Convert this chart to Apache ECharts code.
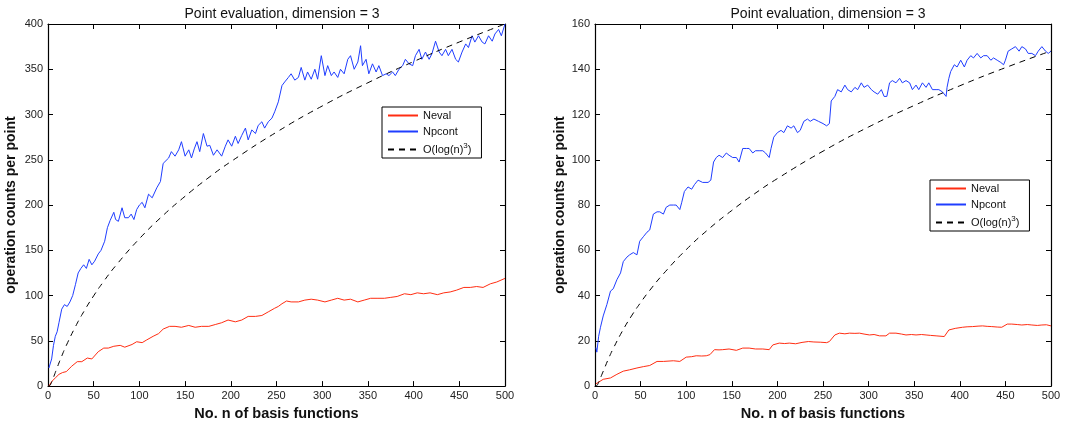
<!DOCTYPE html>
<html>
<head>
<meta charset="utf-8">
<script src="https://cdn.jsdelivr.net/npm/echarts@6/dist/echarts.min.js"></script>
<style>
html,body{margin:0;padding:0;background:#fff;}
#c{width:1071px;height:426px;}
</style>
</head>
<body>
<div id="c"></div>
<script>
// ---------- data ----------
var titleText = 'Point evaluation, dimension = 3';
var xName = 'No. n of basis functions';
var yName = 'operation counts per point';
var seriesNames = ['Neval', 'Npcont', 'O(log(n)^3)'];

// left panel
var leftNpcont = [[1,20],[2,22],[4,30],[6,45],[8,55],[10,60],[12,70],[15,85],[18,90],[21,88],[24,93],[27,100],[30,112],[33,125],[36,130],[39,134],[42,130],[45,140],[48,134],[51,138],[55,146],[58,150],[62,160],[65,175],[68,183],[72,192],[74,184],[77,182],[81,197],[84,186],[88,186],[91,190],[94,184],[97,195],[100,200],[103,203],[106,197],[110,212],[114,208],[119,219],[123,226],[126,246],[128,248],[132,252],[135,259],[139,254],[143,261],[146,270],[150,254],[154,261],[157,252],[160,262],[163,270],[166,259],[170,279],[174,265],[177,266],[181,255],[185,261],[190,254],[194,265],[197,272],[201,265],[205,276],[208,268],[212,277],[216,285],[219,272],[223,283],[227,279],[230,288],[234,292],[237,285],[241,292],[245,296],[248,303],[252,314],[256,332],[259,336],[263,341],[266,345],[270,338],[274,341],[277,352],[281,338],[284,347],[288,339],[292,350],[295,339],[299,365],[303,343],[306,354],[310,343],[313,347],[317,341],[320,350],[324,345],[328,361],[331,365],[335,350],[339,358],[342,376],[344,354],[348,361],[351,345],[355,356],[359,347],[362,354],[366,343],[370,345],[373,343],[377,347],[380,343],[384,350],[388,354],[391,361],[395,356],[399,354],[402,365],[406,372],[409,361],[413,369],[417,361],[420,367],[424,381],[428,369],[431,365],[435,372],[438,365],[442,372],[446,361],[449,358],[453,369],[457,378],[460,374],[464,387],[467,380],[471,387],[475,380],[478,378],[482,387],[486,381],[489,389],[493,394],[496,387],[500,400]];
var leftNeval = [[1,0],[4,5],[8,9],[12,13],[16,15],[20,16],[26,22],[32,27],[37,27],[43,31],[48,30],[55,38],[61,42],[66,42],[72,44],[79,45],[84,43],[92,46],[97,49],[103,48],[108,51],[115,55],[121,58],[126,63],[133,66],[139,66],[146,65],[154,67],[161,65],[168,66],[176,66],[183,68],[190,70],[197,73],[205,71],[212,73],[219,77],[227,77],[234,78],[241,82],[248,86],[252,88],[256,91],[261,94],[266,93],[274,93],[281,95],[288,96],[295,95],[303,93],[310,95],[317,97],[324,95],[331,96],[339,93],[346,95],[353,97],[361,97],[368,97],[375,98],[382,99],[390,102],[397,101],[404,103],[411,102],[418,103],[426,101],[433,103],[440,104],[447,106],[455,109],[462,109],[469,110],[476,109],[484,113],[491,115],[500,119]];
var leftRef = [[1,0],[2,0.6],[3,2.2],[5,6.9],[7,12.3],[10,20.4],[15,33.1],[20,44.8],[30,65.6],[40,83.7],[50,99.8],[60,114.4],[75,134.1],[100,162.8],[125,187.7],[150,209.7],[175,229.7],[200,247.9],[250,280.5],[300,309.4],[350,335.1],[400,358.5],[450,380.1],[500,400]];

// right panel
var rightNpcont = [[1,17],[2,15],[4,22],[6,26],[9,31],[13,36],[17,42],[20,43],[24,47],[28,50],[31,55],[35,57],[38,58],[42,59],[46,58],[49,64],[53,66],[57,68],[60,69],[64,76],[68,77],[71,77],[75,76],[78,79],[82,80],[86,80],[89,80],[93,78],[95,81],[98,86],[102,88],[106,87],[109,89],[113,91],[118,90],[124,90],[127,91],[130,99],[133,101],[136,102],[140,101],[144,103],[147,102],[151,101],[155,101],[158,99],[162,105],[166,105],[169,105],[173,103],[176,104],[180,104],[184,104],[187,103],[191,101],[193,105],[196,110],[200,112],[204,113],[207,112],[211,115],[215,114],[218,115],[222,112],[225,113],[229,117],[233,118],[236,117],[240,118],[245,117],[250,116],[254,115],[257,116],[259,126],[263,128],[266,131],[270,130],[274,133],[277,131],[281,130],[285,132],[288,131],[292,134],[295,132],[299,133],[303,131],[306,130],[310,129],[314,131],[317,128],[320,128],[323,134],[326,135],[330,134],[334,136],[337,134],[341,135],[345,134],[348,131],[352,133],[355,131],[359,134],[363,132],[366,134],[370,131],[374,131],[377,131],[381,130],[385,128],[386,132],[388,136],[390,139],[394,142],[397,141],[401,144],[405,141],[408,144],[412,146],[415,145],[419,147],[423,145],[426,146],[430,146],[434,144],[437,145],[441,144],[445,143],[448,142],[450,144],[453,148],[457,149],[461,150],[465,148],[468,150],[472,149],[475,147],[479,147],[483,146],[486,148],[490,150],[494,148],[497,147],[500,148]];
var rightNeval = [[1,1],[2,1.5],[9,3],[17,3.6],[24,5.2],[31,6.6],[38,7.2],[46,8],[53,8.6],[60,9.1],[68,10.9],[75,10.9],[86,11.2],[93,10.9],[100,12.8],[106,13],[111,13.4],[117,13.3],[122,13.4],[126,13.9],[131,16.1],[136,16],[140,16.1],[147,16.4],[155,15.8],[162,16.8],[169,16.8],[176,16.4],[184,16.4],[191,16.1],[195,18.2],[202,19],[208,18.8],[213,19],[220,18.7],[227,19.3],[234,19.7],[240,19.5],[247,19.4],[254,19.2],[257,19.7],[263,22.6],[268,23.4],[274,23.1],[279,23.4],[285,23.3],[290,23.4],[295,23],[301,22.6],[306,22.8],[312,22.2],[319,22.2],[323,23.4],[330,23.4],[336,23],[341,22.6],[347,22.8],[352,22.6],[358,22.8],[363,22.6],[368,22.4],[374,22.2],[383,21.9],[388,24.8],[395,25.5],[403,26],[408,26.2],[414,26.3],[420,26.5],[425,26.6],[430,26.4],[435,26.3],[441,26.1],[446,26],[452,27.4],[457,27.4],[463,27.2],[468,27],[474,27.2],[479,27],[485,26.8],[490,27],[495,27.1],[500,26.6]];
var rightRef = [[1,0],[2,0.2],[3,0.8],[5,2.6],[7,4.6],[10,7.5],[15,12.3],[20,16.6],[30,24.3],[40,31.0],[50,36.9],[60,42.3],[75,49.6],[100,60.3],[125,69.5],[150,77.6],[175,85.0],[200,91.7],[250,103.8],[300,114.5],[350,124.0],[400,132.7],[450,140.7],[500,148.1]];

var xTicks = {min: 0, max: 500, interval: 50};
var leftYTicks = {min: 0, max: 400, interval: 50};
var rightYTicks = {min: 0, max: 160, interval: 20};

// ---------- styles ----------
var FONT = '"Liberation Sans", Arial, Helvetica, sans-serif';
var RED = '#ff2d12';
var BLUE = '#1f3dff';

function mkX(gi, pos, show) {
  return {
    type: 'value', gridIndex: gi, position: pos,
    min: xTicks.min, max: xTicks.max, interval: xTicks.interval,
    name: show ? xName : '', nameLocation: 'middle', nameGap: 14,
    nameTextStyle: {fontFamily: FONT, fontSize: 14.5, fontWeight: 'bold', color: '#111'},
    axisLine: {show: true, onZero: false, lineStyle: {color: '#000', width: 1.2}},
    axisTick: {show: true, inside: true, length: 5, lineStyle: {color: '#000'}},
    axisLabel: {show: show, margin: 4, fontFamily: FONT, fontSize: 11, color: '#222'},
    splitLine: {show: false}
  };
}
function mkY(gi, pos, show, t, gap) {
  return {
    type: 'value', gridIndex: gi, position: pos,
    min: t.min, max: t.max, interval: t.interval,
    name: show ? yName : '', nameLocation: 'middle', nameGap: gap,
    nameTextStyle: {fontFamily: FONT, fontSize: 14, fontWeight: 'bold', color: '#111'},
    axisLine: {show: true, onZero: false, lineStyle: {color: '#000', width: 1.2}},
    axisTick: {show: true, inside: true, length: 5, lineStyle: {color: '#000'}},
    axisLabel: {show: show, margin: 5, fontFamily: FONT, fontSize: 11, color: '#222'},
    splitLine: {show: false}
  };
}
function line(name, data, xi, yi, color, dashed) {
  return {
    type: 'line', name: name, data: data, xAxisIndex: xi, yAxisIndex: yi,
    symbol: 'none', showSymbol: false, smooth: dashed ? true : false,
    animation: false,
    lineStyle: {color: color, width: 1, type: dashed ? [6, 5] : 'solid'},
    itemStyle: {color: color}
  };
}
function mkLegend(left, top) {
  return {
    orient: 'vertical', left: left, top: top,
    data: seriesNames,
    itemWidth: 30, itemHeight: 12, itemGap: 5,
    padding: [3, 10, 3, 5],
    borderColor: '#000', borderWidth: 1, backgroundColor: '#fff',
    selectedMode: false,
    itemStyle: {opacity: 0, borderWidth: 0},
    formatter: function (n) { return n === 'O(log(n)^3)' ? 'O(log(n){sup|3})' : n; },
    textStyle: {fontFamily: FONT, fontSize: 11, color: '#111',
      rich: {sup: {fontFamily: FONT, fontSize: 8, color: '#111', padding: [0, 0, 7, 0]}}}
  };
}

var chart = echarts.init(document.getElementById('c'), null, {renderer: 'canvas'});
chart.setOption({
  animation: false,
  backgroundColor: '#fff',
  title: [
    {text: titleText, left: 277, top: 2, textAlign: 'center',
     textStyle: {fontFamily: FONT, fontSize: 14, fontWeight: 'normal', color: '#111'}},
    {text: titleText, left: 823, top: 2, textAlign: 'center',
     textStyle: {fontFamily: FONT, fontSize: 14, fontWeight: 'normal', color: '#111'}}
  ],
  grid: [
    {left: 48, top: 24, width: 457, height: 364},
    {left: 595, top: 24, width: 456, height: 364}
  ],
  xAxis: [mkX(0, 'bottom', true), mkX(0, 'top', false), mkX(1, 'bottom', true), mkX(1, 'top', false)],
  yAxis: [mkY(0, 'left', true, leftYTicks, 30), mkY(0, 'right', false, leftYTicks, 0),
          mkY(1, 'left', true, rightYTicks, 28), mkY(1, 'right', false, rightYTicks, 0)],
  legend: [mkLegend(382, 107), mkLegend(930, 180)],
  series: [
    line('Neval', leftNeval, 0, 0, RED, false),
    line('Npcont', leftNpcont, 0, 0, BLUE, false),
    line('O(log(n)^3)', leftRef, 0, 0, '#000', true),
    line('Neval', rightNeval, 2, 2, RED, false),
    line('Npcont', rightNpcont, 2, 2, BLUE, false),
    line('O(log(n)^3)', rightRef, 2, 2, '#000', true)
  ]
});
</script>
</body>
</html>
